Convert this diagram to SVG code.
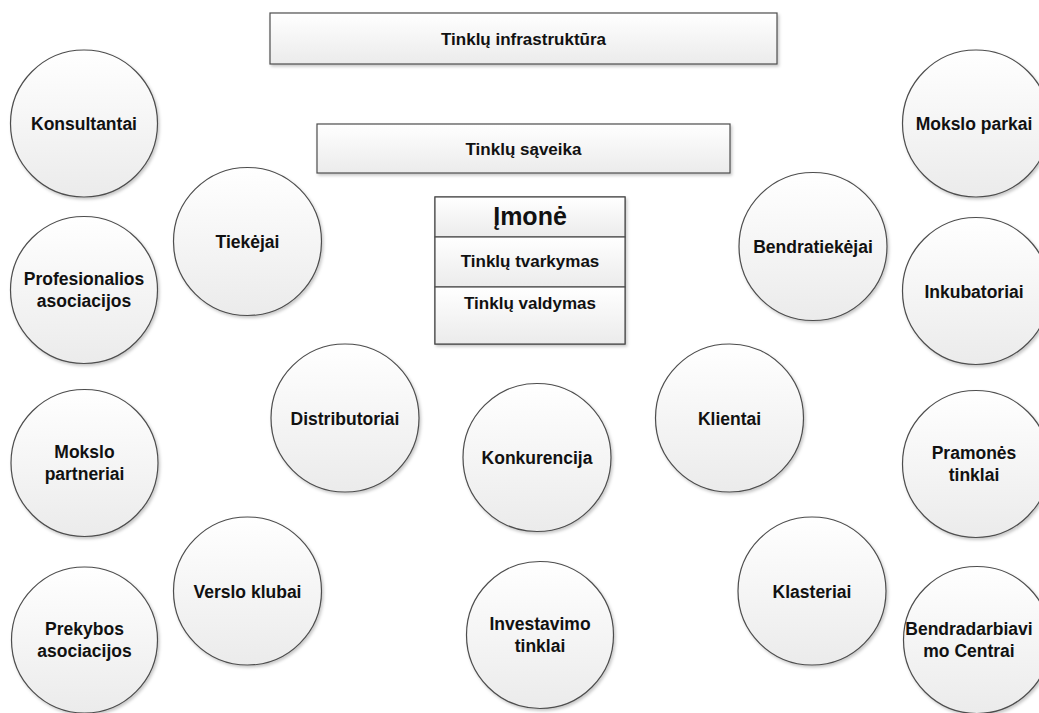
<svg xmlns="http://www.w3.org/2000/svg" width="1039" height="713" viewBox="0 0 1039 713">
<defs>
<linearGradient id="gfill" x1="0" y1="0" x2="0" y2="1">
<stop offset="0" stop-color="#ffffff"/>
<stop offset="1" stop-color="#ebebeb"/>
</linearGradient>
<filter id="shadow" x="-10%" y="-10%" width="125%" height="130%">
<feDropShadow dx="1.5" dy="2" stdDeviation="1.5" flood-color="#000" flood-opacity="0.22"/>
</filter>
</defs>
<style>
.shape{fill:url(#gfill);stroke:#4d4d4d;stroke-width:1.2;filter:url(#shadow)}
.lbl{font-family:"Liberation Sans",Arial,sans-serif;font-weight:bold;font-size:17.5px;fill:#111;text-anchor:middle}
.blbl{font-family:"Liberation Sans",Arial,sans-serif;font-weight:bold;font-size:17px;fill:#111;text-anchor:middle}
.big{font-size:25px}
</style>
<rect width="1039" height="713" fill="#ffffff"/>
<g id="connectors"/>

<g id="tinklu-infrastruktura">
<rect class="shape" x="270" y="13" width="507" height="51"/>
<text class="blbl" x="523.5" y="45">Tinklų infrastruktūra</text>
</g>
<g id="tinklu-saveika">
<rect class="shape" x="317" y="124" width="413" height="49"/>
<text class="blbl" x="523.5" y="155">Tinklų sąveika</text>
</g>
<g id="imone">
<rect class="shape" x="435" y="197" width="190" height="147"/>
<rect class="shape" x="435" y="197" width="190" height="40" style="filter:none"/>
<rect class="shape" x="435" y="237" width="190" height="50" style="filter:none"/>
<rect class="shape" x="435" y="287" width="190" height="57" style="filter:none"/>
<text class="blbl big" x="530" y="225">Įmonė</text>
<text class="blbl" x="530" y="267">Tinklų tvarkymas</text>
<text class="blbl" x="530" y="309">Tinklų valdymas</text>
</g>

<g id="konsultantai">
<circle class="shape" cx="84" cy="123.5" r="73.5"/>
<text class="lbl" x="84" y="130">Konsultantai</text>
</g>
<g id="profesionalios-asociacijos">
<circle class="shape" cx="84" cy="290" r="73.5"/>
<text class="lbl" x="84" y="285">Profesionalios</text>
<text class="lbl" x="84" y="307">asociacijos</text>
</g>
<g id="mokslo-partneriai">
<circle class="shape" cx="84.5" cy="463" r="73.5"/>
<text class="lbl" x="84.5" y="458">Mokslo</text>
<text class="lbl" x="84.5" y="480">partneriai</text>
</g>
<g id="prekybos-asociacijos">
<circle class="shape" cx="84.5" cy="640" r="73"/>
<text class="lbl" x="84.5" y="635">Prekybos</text>
<text class="lbl" x="84.5" y="657">asociacijos</text>
</g>

<g id="tiekejai">
<circle class="shape" cx="247.5" cy="241.5" r="74"/>
<text class="lbl" x="247.5" y="248">Tiekėjai</text>
</g>
<g id="distributoriai">
<circle class="shape" cx="345" cy="418" r="74"/>
<text class="lbl" x="345" y="424.5">Distributoriai</text>
</g>
<g id="verslo-klubai">
<circle class="shape" cx="247.5" cy="591" r="74"/>
<text class="lbl" x="247.5" y="597.5">Verslo klubai</text>
</g>

<g id="konkurencija">
<circle class="shape" cx="537" cy="457.5" r="74"/>
<text class="lbl" x="537" y="464">Konkurencija</text>
</g>
<g id="investavimo-tinklai">
<circle class="shape" cx="540" cy="635" r="73.5"/>
<text class="lbl" x="540" y="630">Investavimo</text>
<text class="lbl" x="540" y="652">tinklai</text>
</g>

<g id="bendratiekejai">
<circle class="shape" cx="813" cy="246.5" r="74"/>
<text class="lbl" x="813" y="253">Bendratiekėjai</text>
</g>
<g id="klientai">
<circle class="shape" cx="729.5" cy="418" r="74"/>
<text class="lbl" x="729.5" y="424.5">Klientai</text>
</g>
<g id="klasteriai">
<circle class="shape" cx="812" cy="591" r="74"/>
<text class="lbl" x="812" y="597.5">Klasteriai</text>
</g>

<g id="mokslo-parkai">
<circle class="shape" cx="976" cy="123.5" r="73.5"/>
<text class="lbl" x="974" y="130">Mokslo parkai</text>
</g>
<g id="inkubatoriai">
<circle class="shape" cx="976" cy="291" r="73.5"/>
<text class="lbl" x="974" y="297.5">Inkubatoriai</text>
</g>
<g id="pramones-tinklai">
<circle class="shape" cx="976" cy="464" r="73.5"/>
<text class="lbl" x="974" y="459">Pramonės</text>
<text class="lbl" x="974" y="481">tinklai</text>
</g>
<g id="bendradarbiavimo-centrai">
<circle class="shape" cx="977" cy="640" r="73.5"/>
<text class="lbl" x="969" y="635">Bendradarbiavi</text>
<text class="lbl" x="969" y="657">mo Centrai</text>
</g>
</svg>
